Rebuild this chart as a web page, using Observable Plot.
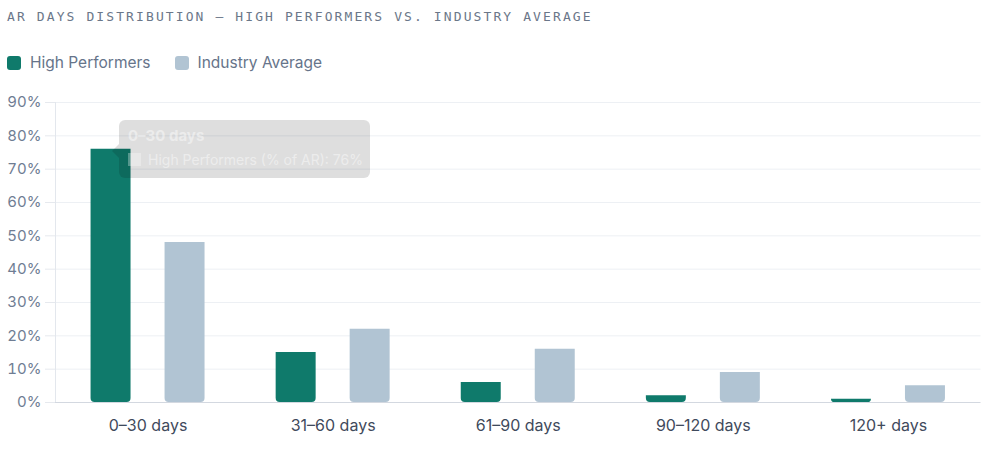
<!DOCTYPE html>
<html>
<head>
<meta charset="utf-8">
<script src="https://cdn.jsdelivr.net/npm/d3@7"></script>
<script src="https://cdn.jsdelivr.net/npm/@observablehq/plot@0.6"></script>
<style>
  html, body { margin: 0; padding: 0; background: #fff; }
  body { width: 1000px; height: 449px; overflow: hidden; position: relative; font-family: Inter, "Noto Sans", sans-serif; }
  #title { position: absolute; left: 7px; top: 9px; font-family: "DejaVu Sans Mono", monospace; font-size: 13px; letter-spacing: 2.1px; color: #6b7789; white-space: nowrap; }
  #legend { position: absolute; left: 7px; top: 53px; display: flex; align-items: center; font-size: 15.5px; color: #66748a; }
  .item { display: flex; align-items: center; margin-right: 24px; }
  .sw { width: 14px; height: 14px; border-radius: 3px; margin-right: 9px; }
  #chart { position: absolute; left: 0; top: 85px; }
  #tip { position: absolute; left: 119px; top: 120px; width: 251px; height: 58px; border-radius: 6px; background: rgba(0,0,0,0.13); color: rgba(255,255,255,0.45); font-size: 14px; }
  #tip .arrow { position: absolute; left: -7px; top: 24px; width: 0; height: 0; border-top: 7px solid transparent; border-bottom: 7px solid transparent; border-right: 7px solid rgba(0,0,0,0.13); }
  #tip .t1 { position: absolute; left: 9px; top: 6px; font-weight: 700; font-size: 15px; }
  #tip .t2 { position: absolute; left: 9px; top: 31px; display: flex; align-items: center; white-space: nowrap; }
  #tip .t2 span.s { width: 13px; height: 13px; background: rgba(255,255,255,0.3); margin-right: 7px; display: inline-block; }
</style>
</head>
<body>
<div id="title">AR DAYS DISTRIBUTION — HIGH PERFORMERS VS. INDUSTRY AVERAGE</div>
<div id="legend"></div>
<div id="chart"></div>
<div id="tip"><div class="arrow"></div><div class="t1">0–30 days</div><div class="t2"><span class="s"></span>High Performers (% of AR): 76%</div></div>
<script>
const categories = ["0–30 days", "31–60 days", "61–90 days", "90–120 days", "120+ days"];
const seriesNames = ["High Performers", "Industry Average"];
const highPerformers = [76, 15, 6, 2, 1];
const industryAverage = [48, 22, 16, 9, 5];
const yTicks = [0, 10, 20, 30, 40, 50, 60, 70, 80, 90];
const colors = ["#0f7a6b", "#b1c4d3"];

const hpData = categories.map((c, i) => ({cat: c, series: seriesNames[0], value: highPerformers[i]}));
const iaData = categories.map((c, i) => ({cat: c, series: seriesNames[1], value: industryAverage[i]}));

const legend = document.getElementById("legend");
seriesNames.forEach((s, i) => {
  const it = document.createElement("div");
  it.className = "item";
  it.innerHTML = `<span class="sw" style="background:${colors[i]}"></span>${s}`;
  legend.appendChild(it);
});

const chart = Plot.plot({
  width: 1000,
  height: 364,
  marginTop: 17,
  marginBottom: 47,
  marginLeft: 55,
  marginRight: 19.5,
  style: { fontFamily: "Inter, 'Noto Sans', sans-serif", fontSize: "15px", background: "transparent" },
  x: { domain: categories, paddingInner: 0.784, paddingOuter: 0.392, round: false, label: null },
  y: { domain: [0, 90], label: null },
  color: { domain: seriesNames, range: colors },
  marks: [
    Plot.gridY(yTicks.filter(d => d > 0), { stroke: "#edf0f4", strokeOpacity: 1 }),
    Plot.axisY(yTicks, { tickSize: 10, tickPadding: 4, stroke: "#e6e9ee", fill: "#6f7d93", fontSize: 15, tickFormat: d => d + "%", label: null }),
    Plot.frame({ anchor: "left", stroke: "#e3e7ed" }),
    Plot.barY(hpData, { x: "cat", y: "value", fill: "series", dx: -37, ry2: 4 }),
    Plot.barY(iaData, { x: "cat", y: "value", fill: "series", dx: 37, ry2: 4 }),
    Plot.ruleY([0], { stroke: "#d3d8e0", strokeWidth: 1.2 }),
    Plot.axisX({ tickSize: 0, tickPadding: 17, label: null, fill: "#3f4a5c", fontSize: 16 })
  ]
});
document.getElementById("chart").appendChild(chart);
</script>
</body>
</html>
